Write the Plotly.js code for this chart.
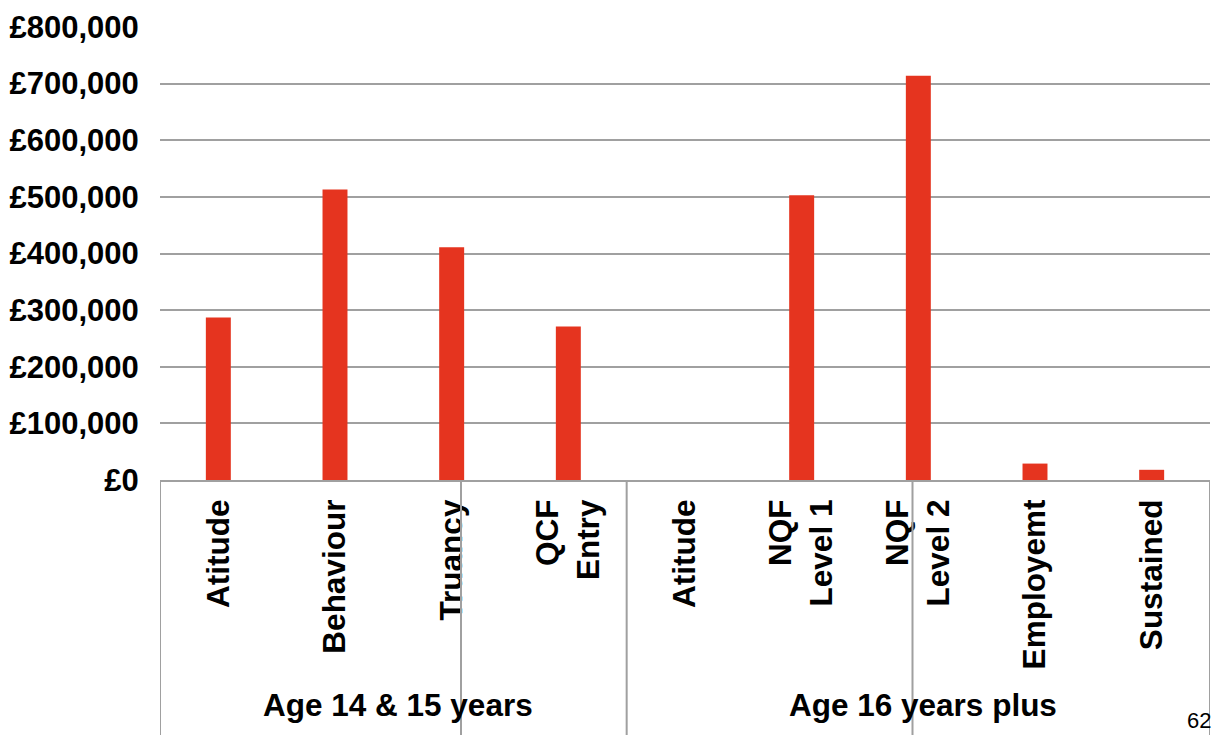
<!DOCTYPE html>
<html>
<head>
<meta charset="utf-8">
<script src="https://cdn.plot.ly/plotly-3.0.1.min.js"></script>
<style>html,body{margin:0;padding:0;background:#fff;}#chart{width:1215px;height:735px;}</style>
</head>
<body>
<div id="chart"></div>
<script>
// ---- data ----
const categories = ["Atitude", "Behaviour", "Truancy", "QCF<br>Entry", "Atitude", "NQF<br>Level 1", "NQF<br>Level 2", "Employemt", "Sustained"];
const groups = ["Age 14 & 15 years", "Age 16 years plus"];
const groupOfCategory = [0, 0, 0, 0, 1, 1, 1, 1, 1];
const values = [287000, 513000, 411000, 271000, 0, 503000, 714000, 29000, 18000];
const yTickValues = [0, 100000, 200000, 300000, 400000, 500000, 600000, 700000, 800000];
const yTickLabels = ["£0", "£100,000", "£200,000", "£300,000", "£400,000", "£500,000", "£600,000", "£700,000", "£800,000"];
const pageNumber = "62";

// ---- chart ----
const idx = categories.map((_, i) => i);
const font = {family: "Liberation Sans, Arial, sans-serif", size: 31.5, color: "#000"};
const grey = "#a0a0a0";

const trace = {
  type: "bar",
  x: idx,
  y: values,
  marker: {color: "#E5341F"},
  hoverinfo: "y"
};

// group label annotations at the centre of each group's categories
const annotations = groups.map((g, gi) => {
  const members = idx.filter(i => groupOfCategory[i] === gi);
  const centre = (members[0] + members[members.length - 1]) / 2;
  return {
    text: "<b>" + g + "</b>", x: centre, xref: "x", xshift: 5, y: -0.497, yref: "paper",
    xanchor: "center", yanchor: "middle", showarrow: false, font: font
  };
});
annotations.push({
  text: pageNumber, x: 1, xref: "paper", xshift: 3, y: -0.563, yref: "paper",
  xanchor: "right", yanchor: "bottom", showarrow: false,
  font: {family: "Liberation Sans, Arial, sans-serif", size: 22, color: "#000"}
});

// group divider lines below the axis (group boundaries plus the two extra rules in the source)
const groupBounds = [-0.5];
groups.forEach((g, gi) => {
  const members = idx.filter(i => groupOfCategory[i] === gi);
  groupBounds.push(members[members.length - 1] + 0.5);
});
const extraRules = [2.08, 5.95];
const shapes = groupBounds.concat(extraRules).map(xv => ({
  type: "line", xref: "x", yref: "paper", x0: xv, x1: xv, y0: 0, y1: -0.6,
  line: {color: grey, width: 2}
}));

const layout = {
  width: 1215, height: 735,
  margin: {l: 160, r: 5, t: 27, b: 255},
  paper_bgcolor: "#fff", plot_bgcolor: "#fff",
  showlegend: false,
  bargap: 0.786,
  font: font,
  xaxis: {
    type: "linear", range: [-0.5, 8.5],
    tickmode: "array", tickvals: idx, ticktext: categories.map(c => "<b>" + c + "</b>"),
    tickangle: -90, ticks: "outside", ticklen: 5, tickcolor: "rgba(0,0,0,0)",
    showgrid: false, zeroline: false,
    showline: true, linecolor: grey, linewidth: 2,
    tickfont: font, fixedrange: true
  },
  yaxis: {
    range: [0, 800000],
    tickmode: "array", tickvals: yTickValues, ticktext: yTickLabels.map(t => "<b>" + t + "</b>"),
    ticks: "outside", ticklen: 14, tickcolor: "rgba(0,0,0,0)",
    showgrid: true, gridcolor: grey, gridwidth: 2,
    zeroline: false, showline: false,
    tickfont: {family: font.family, size: 31, color: "#000"}, fixedrange: true
  },
  annotations: annotations,
  shapes: shapes
};

Plotly.newPlot("chart", [trace], layout, {displayModeBar: false, staticPlot: true});
</script>
</body>
</html>
